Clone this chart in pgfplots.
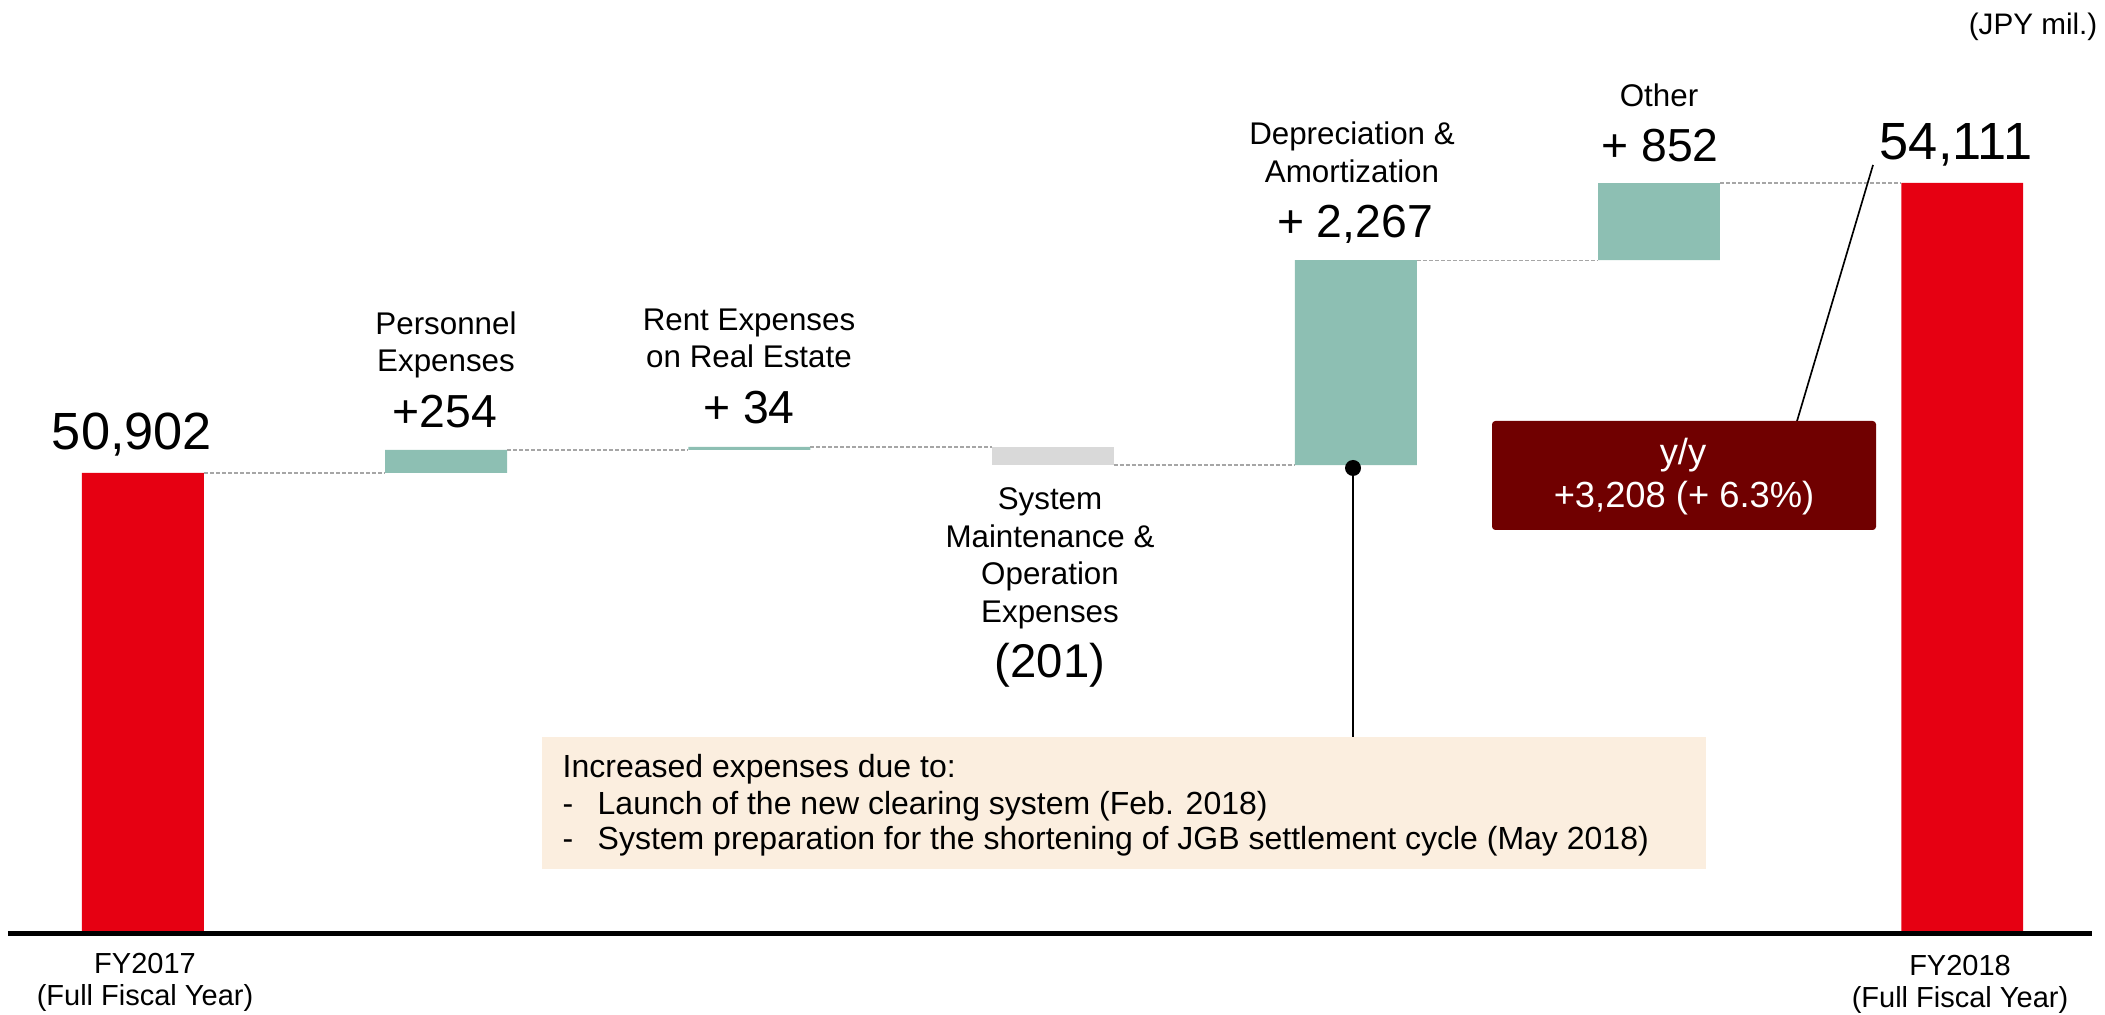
\documentclass[border=0pt]{standalone}
\usepackage{pgfplots}
\pgfplotsset{compat=1.18}
\usepackage{fontspec}
\setmainfont{Liberation Sans}
\definecolor{totRed}{RGB}{230,0,18}
\definecolor{upTeal}{RGB}{141,191,179}
\definecolor{downGrey}{RGB}{217,217,217}
\definecolor{boxRed}{RGB}{112,0,0}
\definecolor{noteBg}{RGB}{251,238,223}
\definecolor{connGrey}{RGB}{166,166,166}
\tikzset{
  conn/.style={line width=0.4pt, draw=connGrey, dash pattern=on 1.2pt off 0.6pt},
  big/.style={font=\fontsize{15.7}{18}\selectfont, anchor=base, inner sep=0pt},
  delta/.style={font=\fontsize{13.9}{16}\selectfont, anchor=base, inner sep=0pt},
  lab/.style={font=\fontsize{9.4}{11}\selectfont, anchor=base, inner sep=0pt},
  note/.style={font=\fontsize{9.6}{11}\selectfont, anchor=base west, inner sep=0pt},
  fy/.style={font=\fontsize{8.7}{10}\selectfont, anchor=base, inner sep=0pt},
}

\begin{document}
\begin{tikzpicture}
\begin{axis}[
  at={(0,0)}, anchor=south west,
  scale only axis, width=625.2pt, height=279.9pt,
  xmin=-0.445, xmax=6.428, ymin=45812, ymax=56136,
  axis lines=none,
  xtick=\empty, ytick=\empty,
  ybar stacked, bar width=0.402,
]
%% invisible floor of each floating bar
\addplot[draw=none, fill=none] coordinates {
  (0,0) (1,50902) (2,51156) (3,50989) (4,50989) (5,53256) (6,0)};
%% totals
\addplot[draw=none, fill=totRed] coordinates {
  (0,50902) (1,0) (2,0) (3,0) (4,0) (5,0) (6,54111)};
%% increases
\addplot[draw=none, fill=upTeal] coordinates {
  (0,0) (1,254) (2,34) (3,0) (4,2267) (5,852) (6,0)};
%% decrease
\addplot[draw=none, fill=downGrey] coordinates {
  (0,0) (1,0) (2,0) (3,201) (4,0) (5,0) (6,0)};
%% connectors
\draw[conn] (axis cs:0.201,50902) -- (axis cs:0.799,50902);
\draw[conn] (axis cs:1.201,51156) -- (axis cs:1.799,51156);
\draw[conn] (axis cs:2.201,51190) -- (axis cs:2.799,51190);
\draw[conn] (axis cs:3.201,50989) -- (axis cs:3.799,50989);
\draw[conn] (axis cs:4.201,53256) -- (axis cs:4.799,53256);
\draw[conn] (axis cs:5.201,54111) -- (axis cs:5.799,54111);
\end{axis}

\begin{scope}[x=0.3pt, y=-0.3pt, shift={(-2.4pt,279.9pt)}]
\draw[line width=1.5pt] (8,933.5) -- (2092,933.5);
\node[fy, anchor=base east, font=\fontsize{8.9}{10}\selectfont] at (2098,35) {(JPY mil.)};
%% values
\node[big] at (132,450) {50,902};
\node[big] at (1956,160) {54,111};
\node[delta] at (445,428) {+254};
\node[delta] at (749,424) {+ 34};
\node[delta, font=\fontsize{14.2}{16}\selectfont] at (1050,678) {(201)};
\node[delta] at (1355,238) {+ 2,267};
\node[delta] at (1660,162) {+ 852};
%% item names
\node[lab] at (446,335) {Personnel};
\node[lab] at (446,372) {Expenses};
\node[lab] at (749,331) {Rent Expenses};
\node[lab] at (749,368) {on Real Estate};
\node[lab] at (1050,510) {System};
\node[lab] at (1050,548) {Maintenance \&};
\node[lab] at (1050,585) {Operation};
\node[lab] at (1050,623) {Expenses};
\node[lab] at (1352,145) {Depreciation \&};
\node[lab] at (1352,183) {Amortization};
\node[lab] at (1659,107) {Other};
\node[fy] at (145,973) {FY2017};
\node[fy] at (145,1005) {(Full Fiscal Year)};
\node[fy] at (1960,975) {FY2018};
\node[fy] at (1960,1007) {(Full Fiscal Year)};
%% y/y box
\draw[line width=0.5pt] (1797,421) -- (1873,165);
\fill[boxRed, rounded corners=1pt] (1492,421) rectangle (1876,530);
\node[lab, text=white, font=\fontsize{10.9}{12}\selectfont] at (1683,465) {y/y};
\node[lab, text=white, font=\fontsize{10.9}{12}\selectfont] at (1684,508) {+3,208 (+ 6.3\%)};
%% note on D&A
\draw[line width=0.6pt] (1353,468) -- (1353,737);
\fill (1353,468) circle[radius=2.4pt];
\fill[noteBg] (542,737) rectangle (1706,869);
\node[note] at (562,777) {Increased expenses due to:};
\node[note] at (562,815) {-};
\node[note] at (597,815) {Launch of the new clearing system (Feb. 2018)};
\node[note] at (562,850) {-};
\node[note] at (597,850) {System preparation for the shortening of JGB settlement cycle (May 2018)};
\end{scope}
\pgfresetboundingbox
\path[use as bounding box] (-2.4pt,-24.6pt) rectangle (629.1pt,279.9pt);
\end{tikzpicture}
\end{document}
